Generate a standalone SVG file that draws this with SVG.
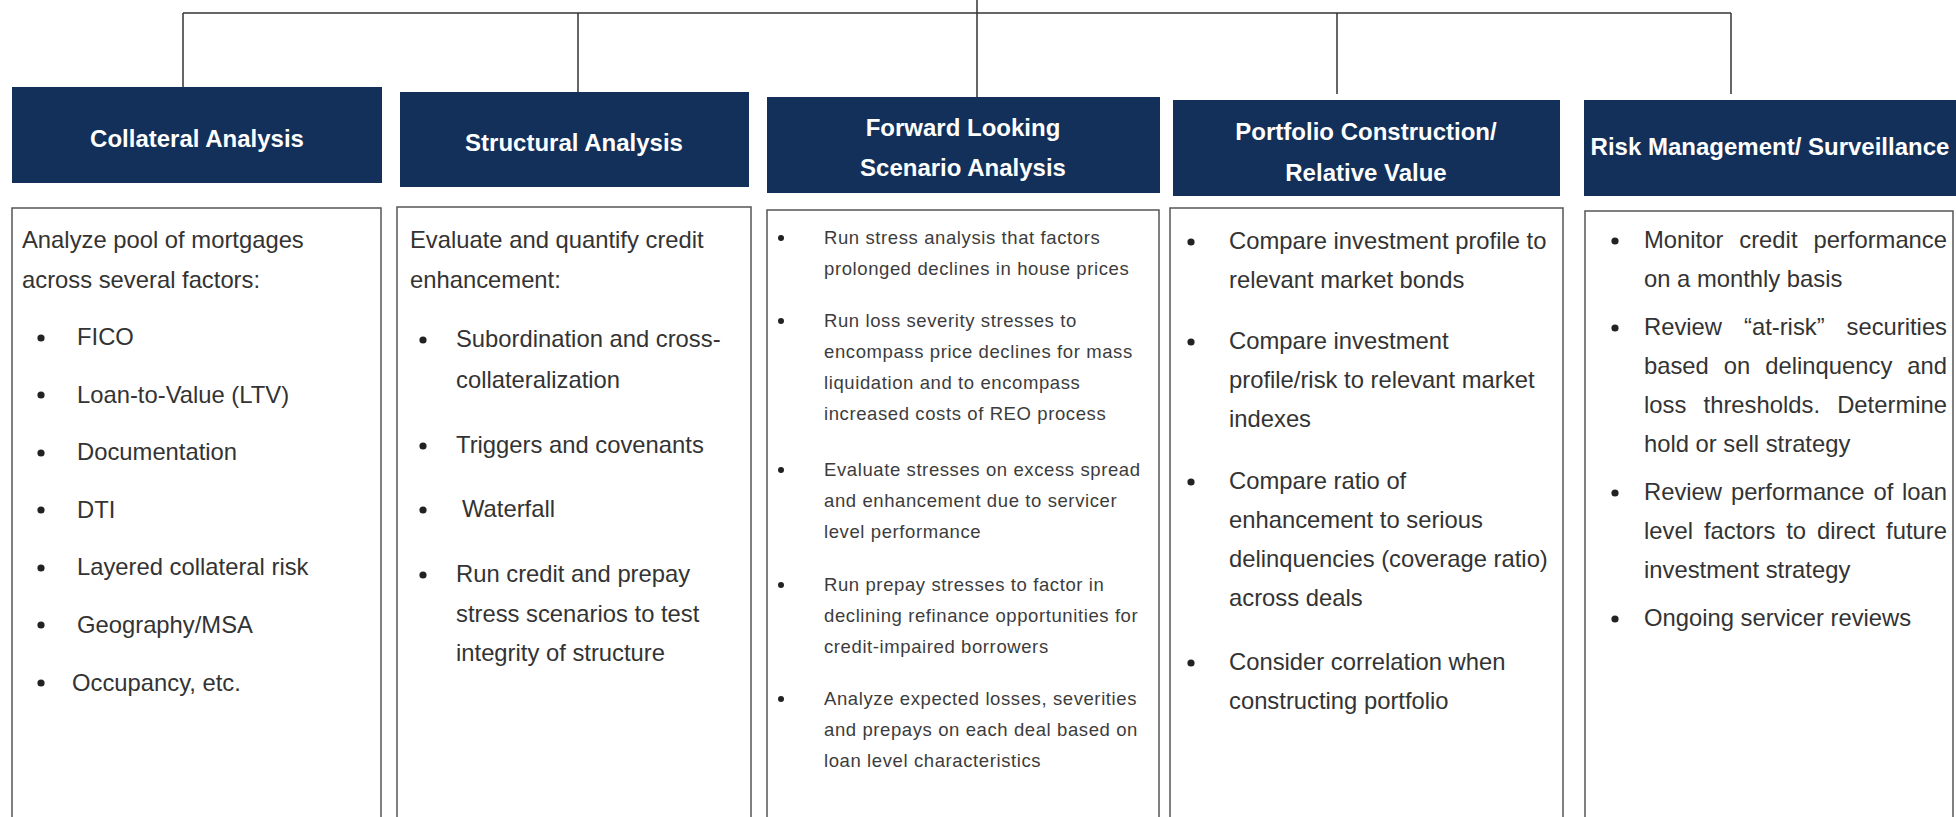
<svg xmlns="http://www.w3.org/2000/svg" width="1956" height="817" viewBox="0 0 1956 817">
<style>
.hdr{fill:#12305a}
.hdrt{fill:#ffffff;font-family:"Liberation Sans",Arial,sans-serif;font-weight:bold;font-size:24px;text-anchor:middle}
.box{fill:#ffffff;stroke:#555555;stroke-width:1.5}
.t{fill:#333333;font-family:"Liberation Sans",Arial,sans-serif;font-size:23.8px}
.s{fill:#3c3c3c;font-family:"Liberation Sans",Arial,sans-serif;font-size:18.5px;letter-spacing:0.6px}
.b{fill:#222222}
.ln{stroke:#333333;stroke-width:1.5;fill:none}
</style>
<rect x="0" y="0" width="1956" height="817" fill="#ffffff"/>
<g id="connectors">
<path class="ln" d="M183,13 H1731"/>
<path class="ln" d="M977,0 V97"/>
<path class="ln" d="M183,13 V87"/>
<path class="ln" d="M578,13 V92"/>
<path class="ln" d="M1337,13 V94"/>
<path class="ln" d="M1731,13 V94"/>
</g>
<g id="collateral">
<rect class="hdr" x="12" y="87" width="370" height="96"/>
<text class="hdrt" x="197" y="147">Collateral Analysis</text>
<rect class="box" x="12" y="208" width="369" height="630"/>
<text class="t" x="22" y="248">Analyze pool of mortgages</text>
<text class="t" x="22" y="288">across several factors:</text>
<g class="b">
<circle cx="41" cy="338" r="3.6"/><circle cx="41" cy="395" r="3.6"/><circle cx="41" cy="453" r="3.6"/><circle cx="41" cy="510" r="3.6"/><circle cx="41" cy="568" r="3.6"/><circle cx="41" cy="625" r="3.6"/><circle cx="41" cy="683" r="3.6"/>
</g>
<text class="t" x="77" y="345">FICO</text>
<text class="t" x="77" y="403">Loan-to-Value (LTV)</text>
<text class="t" x="77" y="460">Documentation</text>
<text class="t" x="77" y="518">DTI</text>
<text class="t" x="77" y="575">Layered collateral risk</text>
<text class="t" x="77" y="633">Geography/MSA</text>
<text class="t" x="72" y="691">Occupancy, etc.</text>
</g>
<g id="structural">
<rect class="hdr" x="400" y="92" width="349" height="95"/>
<text class="hdrt" x="574" y="151">Structural Analysis</text>
<rect class="box" x="397" y="207" width="354" height="630"/>
<text class="t" x="410" y="248">Evaluate and quantify credit</text>
<text class="t" x="410" y="288">enhancement:</text>
<g class="b">
<circle cx="423" cy="340" r="3.6"/><circle cx="423" cy="446" r="3.6"/><circle cx="423" cy="510" r="3.6"/><circle cx="423" cy="575" r="3.6"/>
</g>
<text class="t" x="456" y="347">Subordination and cross-</text>
<text class="t" x="456" y="388">collateralization</text>
<text class="t" x="456" y="453">Triggers and covenants</text>
<text class="t" x="462" y="517">Waterfall</text>
<text class="t" x="456" y="582">Run credit and prepay</text>
<text class="t" x="456" y="622">stress scenarios to test</text>
<text class="t" x="456" y="661">integrity of structure</text>
</g>
<g id="forward">
<rect class="hdr" x="767" y="97" width="393" height="96"/>
<text class="hdrt" x="963" y="136">Forward Looking</text>
<text class="hdrt" x="963" y="176">Scenario Analysis</text>
<rect class="box" x="767" y="210" width="392" height="630"/>
<g class="b">
<circle cx="781" cy="238" r="3"/><circle cx="781" cy="321" r="3"/><circle cx="781" cy="470" r="3"/><circle cx="781" cy="585" r="3"/><circle cx="781" cy="699" r="3"/>
</g>
<text class="s" x="824" y="244">Run stress analysis that factors</text>
<text class="s" x="824" y="275">prolonged declines in house prices</text>
<text class="s" x="824" y="327">Run loss severity stresses to</text>
<text class="s" x="824" y="358">encompass price declines for mass</text>
<text class="s" x="824" y="389">liquidation and to encompass</text>
<text class="s" x="824" y="420">increased costs of REO process</text>
<text class="s" x="824" y="476">Evaluate stresses on excess spread</text>
<text class="s" x="824" y="507">and enhancement due to servicer</text>
<text class="s" x="824" y="538">level performance</text>
<text class="s" x="824" y="591">Run prepay stresses to factor in</text>
<text class="s" x="824" y="622">declining refinance opportunities for</text>
<text class="s" x="824" y="653">credit-impaired borrowers</text>
<text class="s" x="824" y="705">Analyze expected losses, severities</text>
<text class="s" x="824" y="736">and prepays on each deal based on</text>
<text class="s" x="824" y="767">loan level characteristics</text>
</g>
<g id="portfolio">
<rect class="hdr" x="1173" y="100" width="387" height="96"/>
<text class="hdrt" x="1366" y="140">Portfolio Construction/</text>
<text class="hdrt" x="1366" y="181">Relative Value</text>
<rect class="box" x="1170" y="208" width="393" height="630"/>
<g class="b">
<circle cx="1191" cy="242" r="3.6"/><circle cx="1191" cy="342" r="3.6"/><circle cx="1191" cy="482" r="3.6"/><circle cx="1191" cy="663" r="3.6"/>
</g>
<text class="t" x="1229" y="249">Compare investment profile to</text>
<text class="t" x="1229" y="288">relevant market bonds</text>
<text class="t" x="1229" y="349">Compare investment</text>
<text class="t" x="1229" y="388">profile/risk to relevant market</text>
<text class="t" x="1229" y="427">indexes</text>
<text class="t" x="1229" y="489">Compare ratio of</text>
<text class="t" x="1229" y="528">enhancement to serious</text>
<text class="t" x="1229" y="567">delinquencies (coverage ratio)</text>
<text class="t" x="1229" y="606">across deals</text>
<text class="t" x="1229" y="670">Consider correlation when</text>
<text class="t" x="1229" y="709">constructing portfolio</text>
</g>
<g id="risk">
<rect class="hdr" x="1584" y="100" width="372" height="96"/>
<text class="hdrt" x="1770" y="155">Risk Management/ Surveillance</text>
<rect class="box" x="1585" y="211" width="368" height="630"/>
<g class="b">
<circle cx="1615" cy="241" r="3.6"/><circle cx="1615" cy="328" r="3.6"/><circle cx="1615" cy="493" r="3.6"/><circle cx="1615" cy="619" r="3.6"/>
</g>
<text class="t" y="248"><tspan x="1644">Monitor</tspan><tspan x="1739.3">credit</tspan><tspan x="1813.4">performance</tspan></text>
<text class="t" x="1644" y="287">on a monthly basis</text>
<text class="t" y="335"><tspan x="1644">Review</tspan><tspan x="1744">“at-risk”</tspan><tspan x="1846.5">securities</tspan></text>
<text class="t" y="374"><tspan x="1644">based</tspan><tspan x="1723.8">on</tspan><tspan x="1765.3">delinquency</tspan><tspan x="1907.3">and</tspan></text>
<text class="t" y="413"><tspan x="1644">loss</tspan><tspan x="1703.6">thresholds.</tspan><tspan x="1837.2">Determine</tspan></text>
<text class="t" x="1644" y="452">hold or sell strategy</text>
<text class="t" y="500"><tspan x="1644">Review</tspan><tspan x="1730.9">performance</tspan><tspan x="1873.4">of</tspan><tspan x="1902">loan</tspan></text>
<text class="t" y="539"><tspan x="1644">level</tspan><tspan x="1703.9">factors</tspan><tspan x="1786.2">to</tspan><tspan x="1817">direct</tspan><tspan x="1886.1">future</tspan></text>
<text class="t" x="1644" y="578">investment strategy</text>
<text class="t" x="1644" y="626">Ongoing servicer reviews</text>
</g>
</svg>
